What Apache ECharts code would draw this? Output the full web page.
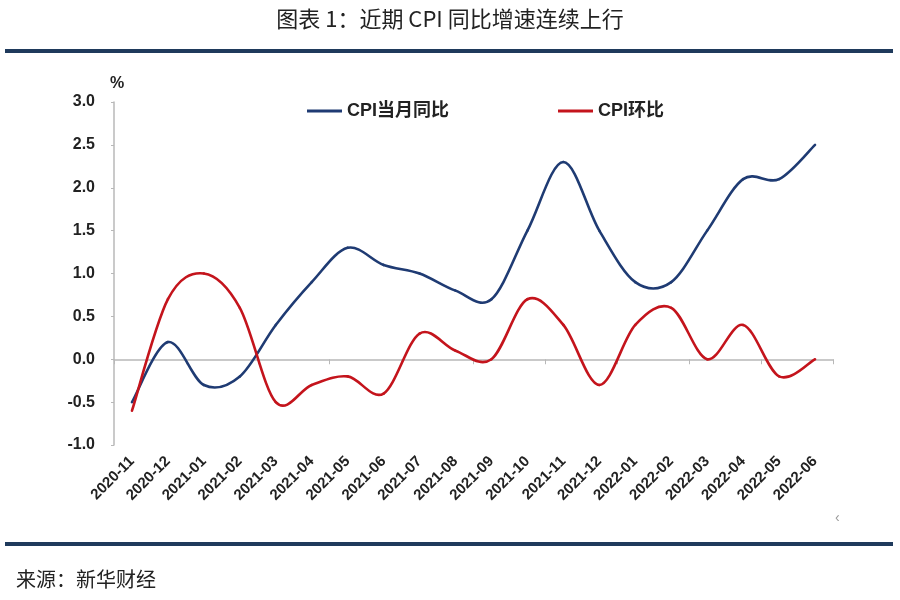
<!DOCTYPE html>
<html><head><meta charset="utf-8">
<script src="https://cdn.jsdelivr.net/npm/echarts@6/dist/echarts.min.js"></script>
<style>html,body{margin:0;padding:0;background:#fff}#c{width:900px;height:600px}</style>
</head><body><div id="c"></div>
<script>
const categories = ['2020-11','2020-12','2021-01','2021-02','2021-03','2021-04','2021-05','2021-06','2021-07','2021-08','2021-09','2021-10','2021-11','2021-12','2022-01','2022-02','2022-03','2022-04','2022-05','2022-06'];
const cpiYoY = [-0.5,0.2,-0.3,-0.2,0.4,0.9,1.3,1.1,1.0,0.8,0.7,1.5,2.3,1.5,0.9,0.9,1.5,2.1,2.1,2.5];
const cpiMoM = [-0.6,0.7,1.0,0.6,-0.5,-0.3,-0.2,-0.4,0.3,0.1,0.0,0.7,0.4,-0.3,0.4,0.6,0.0,0.4,-0.2,0.0];
const yTicks = {min:-1.0, max:3.0, interval:0.5};

const chart = echarts.init(document.getElementById('c'));
const font = '"Liberation Sans", Arial, "Noto Sans CJK SC", sans-serif';

// Smooth (Catmull-Rom style, like spreadsheet smoothed lines) drawn through the axes' scales
function smoothSeries(name, values, color) {
  return {
    name: name, type: 'custom', xAxisIndex: 0, yAxisIndex: 0,
    itemStyle: {color: color},
    data: values.map((v, i) => [i, v]),
    encode: {x: 0, y: 1},
    renderItem: function (params, api) {
      const i = params.dataIndex;
      if (i >= values.length - 1) return null;
      const P = k => api.coord([Math.max(0, Math.min(values.length - 1, k)), values[Math.max(0, Math.min(values.length - 1, k))]]);
      const p0 = P(i - 1), p1 = P(i), p2 = P(i + 1), p3 = P(i + 2);
      const t = 1 / 6;
      return {
        type: 'bezierCurve',
        shape: {
          x1: p1[0], y1: p1[1], x2: p2[0], y2: p2[1],
          cpx1: p1[0] + (p2[0] - p0[0]) * t, cpy1: p1[1] + (p2[1] - p0[1]) * t,
          cpx2: p2[0] - (p3[0] - p1[0]) * t, cpy2: p2[1] - (p3[1] - p1[1]) * t
        },
        style: {stroke: color, lineWidth: 2.6, fill: null, lineCap: 'round'}
      };
    }
  };
}

chart.setOption({
  backgroundColor:'#fff',
  animation:false,
  title:{text:'图表 1：近期 CPI 同比增速连续上行', left:'center', top:3,
    textStyle:{fontSize:22, fontWeight:'normal', color:'#222', fontFamily:'"Noto Sans CJK SC", sans-serif'}},
  graphic:[
    {type:'rect', shape:{x:5,y:49,width:888,height:4}, style:{fill:'#1f3a5c'}},
    {type:'rect', shape:{x:5,y:542,width:888,height:4}, style:{fill:'#1f3a5c'}},
    {type:'text', left:16, top:569, style:{text:'来源：新华财经', fontSize:20, fill:'#222', fontFamily:'"Noto Sans CJK SC", sans-serif'}},
    {type:'text', left:835, top:511, style:{text:'‹', fontSize:14, fill:'#999'}}
  ],
  legend:{left:307, top:102, padding:0, itemGap:109, itemWidth:35, itemHeight:3, icon:'rect',
    textStyle:{fontSize:18, fontWeight:'bold', color:'#222', fontFamily:font},
    data:['CPI当月同比','CPI环比']},
  grid:{left:114, right:67, top:102, bottom:155},
  xAxis:[
    {type:'category', data:categories, boundaryGap:true, position:'bottom',
     axisLine:{show:false, onZero:false}, axisTick:{show:false},
     axisLabel:{rotate:45, interval:0, fontSize:15, fontWeight:'bold', color:'#222', fontFamily:font, margin:14}},
    {type:'category', data:categories, boundaryGap:true, position:'bottom',
     axisLine:{show:true, onZero:true, lineStyle:{color:'#b8b8b8', width:1.5}},
     axisTick:{show:true, inside:false, length:5, lineStyle:{color:'#b8b8b8'}},
     axisLabel:{show:false}}
  ],
  yAxis:{type:'value', min:yTicks.min, max:yTicks.max, interval:yTicks.interval,
    name:'%', nameGap:10, nameTextStyle:{fontSize:16, fontWeight:'bold', color:'#222', align:'left', fontFamily:font, padding:[0,0,0,-4]},
    splitLine:{show:false},
    axisLine:{show:true, lineStyle:{color:'#b8b8b8', width:1.5}},
    axisTick:{show:true, length:3, lineStyle:{color:'#b8b8b8'}},
    axisLabel:{formatter:v=>v.toFixed(1), fontSize:16, fontWeight:'bold', color:'#222', fontFamily:font, margin:19}},
  series:[
    smoothSeries('CPI当月同比', cpiYoY, '#1f3b73'),
    smoothSeries('CPI环比', cpiMoM, '#c4141c')
  ]
});
</script></body></html>
